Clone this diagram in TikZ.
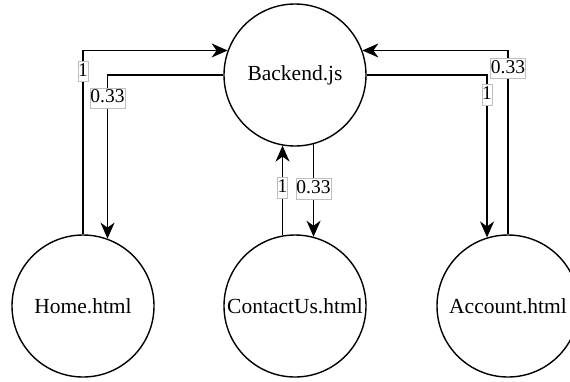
\documentclass[tikz,border=0pt]{standalone}
\usepackage{fontspec}
\setmainfont{Liberation Serif}
\usetikzlibrary{arrows.meta}
\tikzset{
  state/.style={circle,draw,line width=1.4pt,minimum size=142pt,inner sep=0pt,font=\fontsize{21.5}{25}\selectfont},
  conn/.style={line width=1.6pt,-{Stealth[length=16pt,width=14pt,inset=5pt]}},
  lbl/.style={fill=white,draw=black!25,line width=0.5pt,inner xsep=0.3pt,inner ysep=0.6pt,text height=14.5pt,text depth=4.5pt,font=\fontsize{19.5}{21}\selectfont}
}
\begin{document}
\begin{tikzpicture}[x=1pt,y=-1pt]
\useasboundingbox (0,0) rectangle (570,381);
\clip (0,0) rectangle (570,381);
\fill[white] (0,0) rectangle (570,381);
\node[state] (backend) at (295,75) {Backend.js};
\node[state] (home) at (83,306) {Home.html};
\node[state] (contact) at (295,306) {ContactUs.html};
\node[state] (account) at (508,306) {Account.html};
% Home -> Backend
\draw[conn] (home.north) -- node[lbl,pos=0.886]{1} (home.north |- backend.160) -- (backend.160);
% Backend -> Home
\draw[conn] (backend.west) -| node[lbl,pos=0.57]{0.33} (home.70);
% Backend -> Account
\draw[conn] (backend.east) -| node[lbl,pos=0.561]{1} (account.107);
% Account -> Backend
\draw[conn] (account.north) -- node[lbl,pos=0.902]{0.33} (account.north |- backend.20) -- (backend.20);
% ContactUs -> Backend
\draw[conn] (contact.100) -- node[lbl,pos=0.53]{1} (backend.260);
% Backend -> ContactUs
\draw[conn] (backend.-75) -- node[lbl,pos=0.48]{0.33} (contact.75);
\end{tikzpicture}
\end{document}
